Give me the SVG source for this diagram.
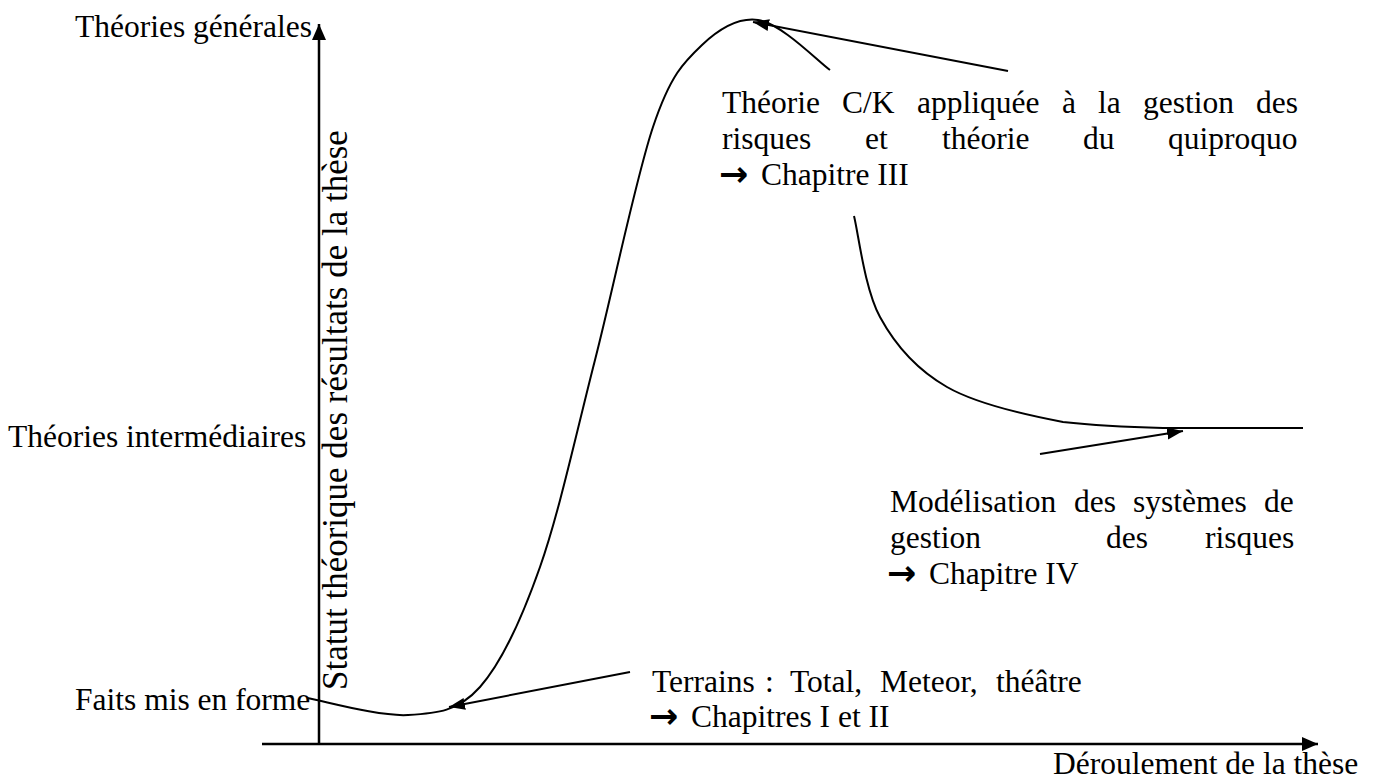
<svg xmlns="http://www.w3.org/2000/svg" width="1379" height="780" viewBox="0 0 1379 780">
<style>
text{font-family:"Liberation Serif","Times New Roman",serif;font-size:31.5px;fill:#000}
.arr{font-family:"DejaVu Sans",sans-serif;font-weight:bold;font-size:35px}
.ax{stroke:#000;stroke-width:2.5;fill:none}
.cv{stroke:#000;stroke-width:2;fill:none}
.cn{stroke:#000;stroke-width:2;fill:none}
</style>
<defs>
<marker id="ah" markerUnits="userSpaceOnUse" markerWidth="18" markerHeight="14" refX="16" refY="6" orient="auto"><path d="M0,0 L16,6 L0,12 z" fill="#000"/></marker>
<marker id="axh" markerUnits="userSpaceOnUse" markerWidth="18" markerHeight="16" refX="16" refY="7" orient="auto"><path d="M0,0 L16,7 L0,14 z" fill="#000"/></marker>
</defs>
<rect width="1379" height="780" fill="#fff"/>
<g id="axes">
<line class="ax" x1="319" y1="745" x2="319" y2="24" marker-end="url(#axh)"/>
<line class="ax" x1="262" y1="744" x2="1318" y2="744" marker-end="url(#axh)"/>
</g>
<g id="curves">
<path class="cv" d="M307,698 C323.8,700.8 379.2,716.8 408,715 C436.8,713.2 458,711.7 480,687 C502,662.3 520.8,621.5 540,567 C559.2,512.5 576.2,433.3 595,360 C613.8,286.7 635.5,179.2 653,127 C670.5,74.8 684,62 702,45 C720,28 738.3,17.2 758,20 C781.7,23.5 818.3,61.8 830,70"/>
<path class="cv" d="M854,216 C858.3,232.8 864.5,288.5 880,317 C895.5,345.5 916.5,369.5 947,387 C977.5,404.5 1027,415.2 1063,422 C1099,426 1123,427 1163,428 L1303,428"/>
</g>
<g id="connectors">
<line class="cn" x1="1008" y1="71" x2="753" y2="22" marker-end="url(#ah)"/>
<line class="cn" x1="1040" y1="454" x2="1183" y2="431" marker-end="url(#ah)"/>
<line class="cn" x1="630" y1="672" x2="449" y2="707" marker-end="url(#ah)"/>
</g>
<g id="label-theories-generales"><text x="75" y="37">Théories générales</text></g>
<g id="label-theories-intermediaires"><text x="8" y="447">Théories intermédiaires</text></g>
<g id="label-faits"><text x="75" y="710">Faits mis en forme</text></g>
<g id="label-yaxis"><text transform="translate(347,690) rotate(-90)" style="font-size:35px">Statut théorique des résultats de la thèse</text></g>
<g id="label-xaxis"><text x="1053" y="774">Déroulement de la thèse</text></g>
<g id="node-chapitre3">
<text y="113"><tspan x="722">Théorie</tspan><tspan x="842">C/K</tspan><tspan x="917">appliquée</tspan><tspan x="1062">à</tspan><tspan x="1098">la</tspan><tspan x="1143">gestion</tspan><tspan x="1256">des</tspan></text>
<text y="149"><tspan x="722">risques</tspan><tspan x="865">et</tspan><tspan x="942">théorie</tspan><tspan x="1083">du</tspan><tspan x="1168">quiproquo</tspan></text>
<text y="186"><tspan x="719" class="arr">→</tspan><tspan x="761" y="185">Chapitre III</tspan></text>
</g>
<g id="node-chapitre4">
<text y="512"><tspan x="890">Modélisation</tspan><tspan x="1074">des</tspan><tspan x="1133">systèmes</tspan><tspan x="1264">de</tspan></text>
<text y="548"><tspan x="890">gestion</tspan><tspan x="1106">des</tspan><tspan x="1205">risques</tspan></text>
<text y="585"><tspan x="887" class="arr">→</tspan><tspan x="929" y="584">Chapitre IV</tspan></text>
</g>
<g id="node-chapitres12">
<text y="692"><tspan x="652">Terrains</tspan><tspan x="765">:</tspan><tspan x="790">Total,</tspan><tspan x="880">Meteor,</tspan><tspan x="996">théâtre</tspan></text>
<text y="728"><tspan x="649" class="arr">→</tspan><tspan x="691" y="727">Chapitres I et II</tspan></text>
</g>
</svg>
